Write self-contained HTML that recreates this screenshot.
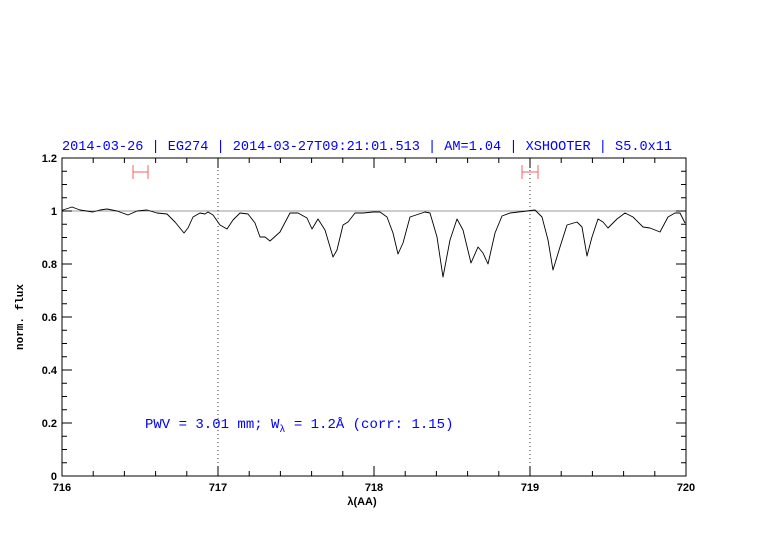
<!DOCTYPE html>
<html><head><style>body{margin:0;background:#fff}</style></head><body>
<svg width="782" height="542" xmlns="http://www.w3.org/2000/svg" font-family="Liberation Sans, sans-serif">
<rect width="782" height="542" fill="#fff"/>
<text x="62" y="150" fill="#0000ff" font-size="14" font-family="Liberation Mono, monospace" textLength="610" lengthAdjust="spacingAndGlyphs">2014-03-26 | EG274 | 2014-03-27T09:21:01.513 | AM=1.04 | XSHOOTER | S5.0x11</text>
<line x1="62" y1="211" x2="686" y2="211" stroke="#999" stroke-width="1"/>
<line x1="218" y1="158" x2="218" y2="476" stroke="#000" stroke-dasharray="1,3" stroke-width="0.8"/>
<line x1="530" y1="158" x2="530" y2="476" stroke="#000" stroke-dasharray="1,3" stroke-width="0.8"/>
<g stroke="#f06060" stroke-width="1">
<line x1="133" y1="172" x2="148" y2="172"/><line x1="133" y1="165" x2="133" y2="179"/><line x1="148" y1="165" x2="148" y2="179"/>
<line x1="522" y1="172" x2="538" y2="172"/><line x1="522" y1="165" x2="522" y2="179"/><line x1="538" y1="165" x2="538" y2="179"/>
</g>
<polyline fill="none" stroke="#000" stroke-width="0.9" stroke-linejoin="round" points="62,211 63,210 72,207 80,210 93,212 100,210 107,209 117,211 128,215 137,211 147,210 157,213 167,214 175,222 184,233 188,228 193,217 200,213 205,214 208,212 213,215 220,225 227,229 233,220 240,213 248,214 255,223 260,237 265,237 270,241 280,232 290,213 298,213 307,218 312,229 318,219 325,230 333,257 337,250 343,225 348,222 355,213 363,213 373,212 380,212 387,217 393,233 398,254 403,243 410,217 425,212 430,213 437,237 443,277 450,240 457,219 463,230 471,263 478,247 483,253 488,264 495,233 502,216 510,213 527,211 535,210 542,217 548,240 553,270 560,247 567,225 577,222 582,227 587,256 592,237 598,219 603,222 608,228 617,219 625,213 633,217 643,227 650,228 660,232 668,217 675,213 680,213 685,223"/>
<rect x="62" y="158" width="624" height="318" fill="none" stroke="#000" stroke-width="1"/>
<g stroke="#000" stroke-width="1">
<path d="M93.2,476v-5M124.4,476v-5M155.6,476v-5M186.8,476v-5M218,476v-10M249.2,476v-5M280.4,476v-5M311.6,476v-5M342.8,476v-5M374,476v-10M405.2,476v-5M436.4,476v-5M467.6,476v-5M498.8,476v-5M530,476v-10M561.2,476v-5M592.4,476v-5M623.6,476v-5M654.8,476v-5"/>
<path d="M93.2,158v5M124.4,158v5M155.6,158v5M186.8,158v5M218,158v10M249.2,158v5M280.4,158v5M311.6,158v5M342.8,158v5M374,158v10M405.2,158v5M436.4,158v5M467.6,158v5M498.8,158v5M530,158v10M561.2,158v5M592.4,158v5M623.6,158v5M654.8,158v5"/>
<path d="M62,462.75h5M62,449.5h5M62,436.25h5M62,423h10M62,409.75h5M62,396.5h5M62,383.25h5M62,370h10M62,356.75h5M62,343.5h5M62,330.25h5M62,317h10M62,303.75h5M62,290.5h5M62,277.25h5M62,264h10M62,250.75h5M62,237.5h5M62,224.25h5M62,211h10M62,197.75h5M62,184.5h5M62,171.25h5"/>
<path d="M686,462.75h-5M686,449.5h-5M686,436.25h-5M686,423h-10M686,409.75h-5M686,396.5h-5M686,383.25h-5M686,370h-10M686,356.75h-5M686,343.5h-5M686,330.25h-5M686,317h-10M686,303.75h-5M686,290.5h-5M686,277.25h-5M686,264h-10M686,250.75h-5M686,237.5h-5M686,224.25h-5M686,211h-10M686,197.75h-5M686,184.5h-5M686,171.25h-5"/>
</g>
<g font-size="11" fill="#000" text-anchor="end" font-weight="bold">
<text x="57" y="480">0</text><text x="57" y="427">0.2</text><text x="57" y="374">0.4</text><text x="57" y="321">0.6</text><text x="57" y="268">0.8</text><text x="57" y="215">1</text><text x="57" y="162">1.2</text>
</g>
<g font-size="11" fill="#000" text-anchor="middle" font-weight="bold">
<text x="62" y="491">716</text><text x="218" y="491">717</text><text x="374" y="491">718</text><text x="530" y="491">719</text><text x="686" y="491">720</text>
<text x="362" y="505">λ(AA)</text>
<text transform="translate(23,317) rotate(-90)" font-family="Liberation Mono, monospace">norm. flux</text>
</g>
<text x="145" y="428" fill="#0000ff" font-size="14" font-family="Liberation Mono, monospace">PWV = 3.01 mm; W<tspan font-size="10" dy="4">λ</tspan><tspan dy="-4"> = 1.2Å (corr: 1.15)</tspan></text>
</svg>
</body></html>
